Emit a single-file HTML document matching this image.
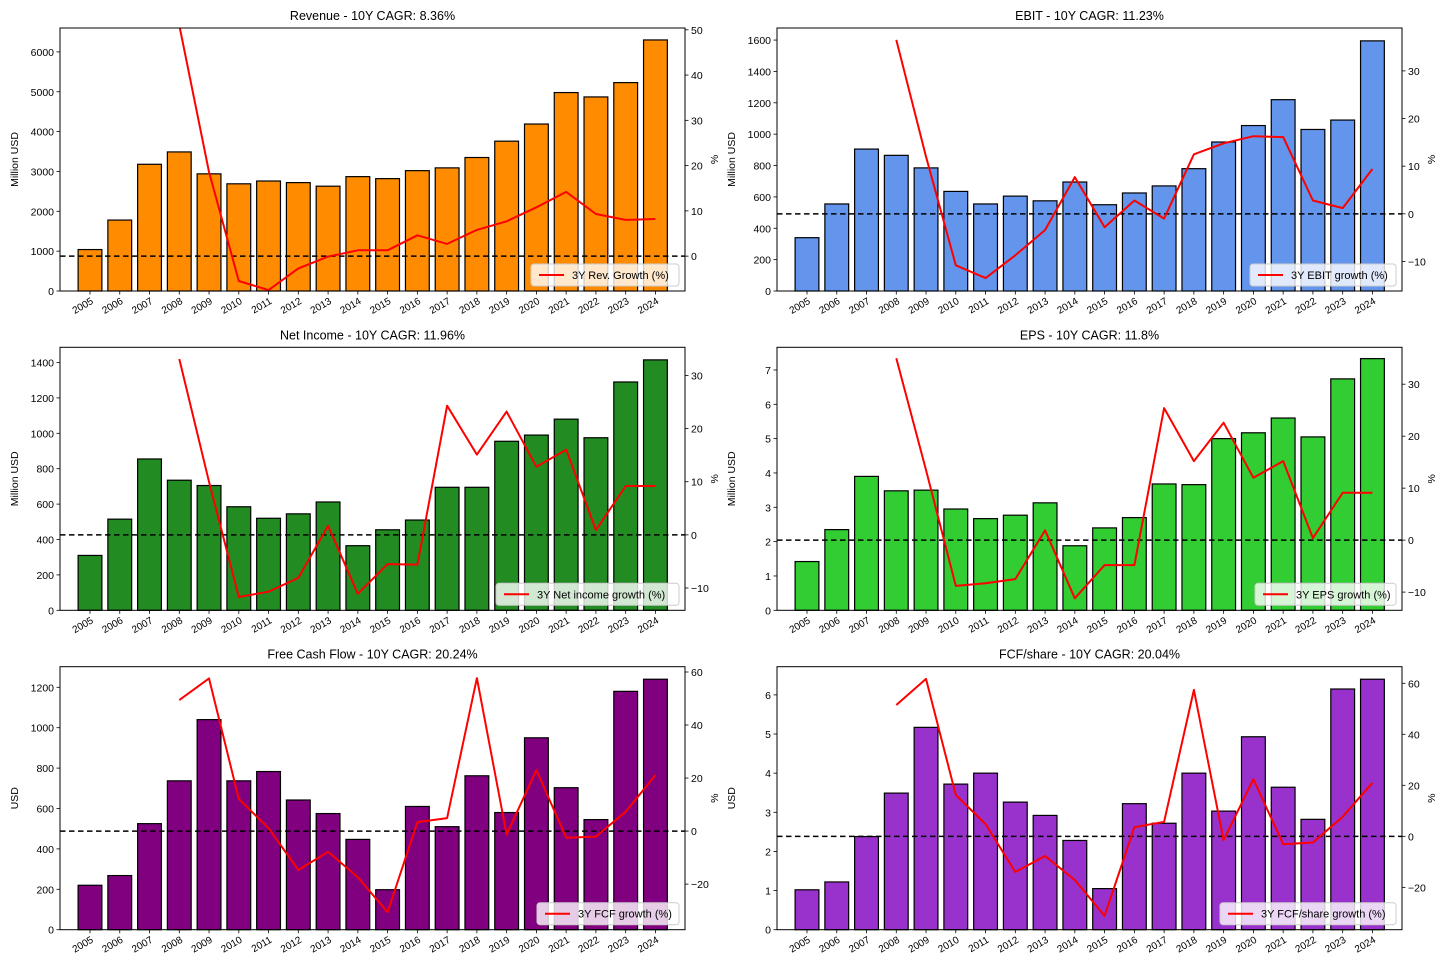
<!DOCTYPE html>
<html><head><meta charset="utf-8">
<style>
html,body{margin:0;padding:0;background:#fff;}
svg{display:block;font-family:"Liberation Sans",sans-serif;}
</style></head>
<body>
<svg id="fig" width="1456" height="971" viewBox="0 0 1456 971" xmlns="http://www.w3.org/2000/svg"></svg>
<script>
const years = ["2005","2006","2007","2008","2009","2010","2011","2012","2013","2014","2015","2016","2017","2018","2019","2020","2021","2022","2023","2024"];

const revenueValues = [1040,1780,3180,3490,2940,2690,2760,2720,2630,2870,2820,3020,3090,3350,3760,4190,4980,4870,5230,6300];
const revenueGrowth = [null,null,null,51,18.6,-5.5,-7.5,-2.7,-0.1,1.3,1.3,4.6,2.7,5.8,7.7,10.8,14.2,9.3,8,8.2];
const revenueLeftTicks = [0,1000,2000,3000,4000,5000,6000];
const revenueRightTicks = [0,10,20,30,40,50];

const ebitValues = [340,555,905,865,785,635,555,605,575,695,550,625,670,780,950,1055,1220,1030,1090,1595];
const ebitGrowth = [null,null,null,36.5,12,-10.8,-13.5,-8.7,-3.4,7.7,-2.8,2.8,-1,12.5,14.8,16.3,16.1,2.8,1.2,9.4];
const ebitLeftTicks = [0,200,400,600,800,1000,1200,1400,1600];
const ebitRightTicks = [-10,0,10,20,30];

const netIncomeValues = [310,515,855,735,705,585,520,545,612,365,455,510,695,695,955,990,1080,975,1290,1415];
const netIncomeGrowth = [null,null,null,33.1,10,-11.7,-10.7,-8.1,1.7,-11.1,-5.5,-5.6,24.3,15.1,23.2,12.8,16,0.9,9.2,9.2];
const netIncomeLeftTicks = [0,200,400,600,800,1000,1200,1400];
const netIncomeRightTicks = [-10,0,10,20,30];

const epsValues = [1.42,2.35,3.9,3.48,3.5,2.95,2.67,2.77,3.13,1.88,2.4,2.7,3.68,3.66,5.0,5.17,5.6,5.05,6.74,7.33];
const epsGrowth = [null,null,null,35,13.5,-8.8,-8.3,-7.5,1.9,-11.2,-4.8,-4.8,25.4,15.2,22.6,12,15.2,0.4,9.1,9.1];
const epsLeftTicks = [0,1,2,3,4,5,6,7];
const epsRightTicks = [-10,0,10,20,30];

const fcfValues = [220,268,525,737,1040,737,783,642,575,447,198,610,510,762,580,950,703,545,1180,1240];
const fcfGrowth = [null,null,null,49.4,57.6,12.1,1.1,-14.7,-7.8,-17.4,-30.6,3.4,4.9,57.7,-1.3,23,-2.5,-2.1,7.3,21.1];
const fcfLeftTicks = [0,200,400,600,800,1000,1200];
const fcfRightTicks = [-20,0,20,40,60];

const fcfShareValues = [1.02,1.22,2.38,3.49,5.17,3.72,4.0,3.26,2.92,2.28,1.05,3.22,2.72,4.0,3.03,4.93,3.64,2.82,6.15,6.4];
const fcfShareGrowth = [null,null,null,51.5,61.7,16.2,4.8,-14,-7.7,-17.1,-31.2,3.6,5.7,57.4,-1.5,22.4,-3.1,-2.4,7.7,21];
const fcfShareLeftTicks = [0,1,2,3,4,5,6];
const fcfShareRightTicks = [-20,0,20,40,60];

const NS = "http://www.w3.org/2000/svg";
const fig = document.getElementById("fig");
function mk(tag, attrs, parent, text){
  const e = document.createElementNS(NS, tag);
  for (const k in attrs) e.setAttribute(k, attrs[k]);
  if (text !== undefined) e.textContent = text;
  (parent||fig).appendChild(e);
  return e;
}

function drawPanel(cfg){
  const g = mk("g", {});
  
  
  const L = cfg.left, R = cfg.left + 625, T = cfg.top, B = cfg.top + 263;
  const yL = v => B - (v - 0) / (cfg.lmax - 0) * (B - T);
  const yR = v => B - (v - cfg.rmin) / (cfg.rmax - cfg.rmin) * (B - T);
  const xC = i => L + 30 + i * 29.76;
  const bw = 23.8;
  const clipId = "clip-" + cfg.name;
  const cp = mk("clipPath", {id: clipId}, g);
  mk("rect", {x: L, y: T, width: 625, height: 263}, cp);

  // title
  const t = mk("text", {x: (L+R)/2, y: T - 8, "text-anchor": "middle", "font-size": 12.5, fill: "#000"}, g, cfg.title);
  
  

  // bars
  cfg.values.forEach((v, i) => {
    const r = mk("rect", {x: xC(i) - bw/2, y: yL(v), width: bw, height: B - yL(v), fill: cfg.color, stroke: "#000", "stroke-width": 1.2}, g);
    
    
  });

  // zero dashed line
  const z = mk("line", {x1: L, x2: R, y1: yR(0), y2: yR(0), stroke: "#000", "stroke-width": 1.5, "stroke-dasharray": "5.5,3.5"}, g);
  
  

  // growth line
  const pts = [];
  cfg.growth.forEach((v, i) => { if (v !== null) pts.push(xC(i).toFixed(1) + "," + yR(v).toFixed(1)); });
  const pl = mk("polyline", {points: pts.join(" "), fill: "none", stroke: "#ff0000", "stroke-width": 2, "clip-path": "url(#" + clipId + ")", "stroke-linejoin": "round"}, g);
  
  

  // frame
  const f = mk("rect", {x: L, y: T, width: 625, height: 263, fill: "none", stroke: "#000", "stroke-width": 1}, g);
  
  

  // left ticks
  cfg.lticks.forEach(v => {
    const y = yL(v);
    mk("line", {x1: L - 3.5, x2: L, y1: y, y2: y, stroke: "#000", "stroke-width": 0.8}, g);
    const tl = mk("text", {x: L - 6, y: y + 4, "text-anchor": "end", "font-size": 10.5}, g, String(v));
    
    
  });
  // right ticks
  cfg.rticks.forEach(v => {
    const y = yR(v);
    mk("line", {x1: R, x2: R + 3.5, y1: y, y2: y, stroke: "#000", "stroke-width": 0.8}, g);
    const tl = mk("text", {x: R + 6, y: y + 4, "text-anchor": "start", "font-size": 10.5}, g, v < 0 ? "\u2212" + Math.abs(v) : String(v));
    
    
  });
  // x ticks
  years.forEach((yr, i) => {
    const x = xC(i);
    mk("line", {x1: x, x2: x, y1: B, y2: B + 3.5, stroke: "#000", "stroke-width": 0.8}, g);
    const tl = mk("text", {x: x + 4, y: B + 12, "text-anchor": "end", "font-size": 10, transform: "rotate(-30 " + (x+4) + " " + (B+12) + ")"}, g, yr);
    
    
  });
  // axis titles
  const ly = mk("text", {x: 0, y: 0, "text-anchor": "middle", "font-size": 10.5, transform: "translate(" + (L - 42) + "," + ((T+B)/2) + ") rotate(-90)"}, g, cfg.ylabel);
  
  
  const ry = mk("text", {x: 0, y: 0, "text-anchor": "middle", "font-size": 10.5, transform: "translate(" + (R + 33) + "," + ((T+B)/2) + ") rotate(-90)"}, g, "%");
  
  

  // legend
  const lw = cfg.legendW, lh = 22;
  const lx = R - 6 - lw, lyy = B - 5 - lh;
  const lg = mk("g", {}, g);
  
  
  mk("rect", {x: lx, y: lyy, width: lw, height: lh, rx: 3, fill: "#fff", "fill-opacity": 0.8, stroke: "#ccc", "stroke-width": 1}, lg);
  mk("line", {x1: lx + 8, x2: lx + 33, y1: lyy + 11, y2: lyy + 11, stroke: "#ff0000", "stroke-width": 2}, lg);
  const lt = mk("text", {x: lx + 41, y: lyy + 15, "font-size": 11}, lg, cfg.legend);
  
  
}

drawPanel({name:"revenue-chart", title:"Revenue - 10Y CAGR: 8.36%", left:60, top:28, lmax:6600, rmin:-7.7, rmax:50.4, values:revenueValues, growth:revenueGrowth, lticks:revenueLeftTicks, rticks:revenueRightTicks, color:"#ff8c00", ylabel:"Million USD", legend:"3Y Rev. Growth (%)", legendW:148});
drawPanel({name:"ebit-chart", title:"EBIT - 10Y CAGR: 11.23%", left:777, top:28, lmax:1677, rmin:-16.2, rmax:39.0, values:ebitValues, growth:ebitGrowth, lticks:ebitLeftTicks, rticks:ebitRightTicks, color:"#6495ed", ylabel:"Million USD", legend:"3Y EBIT growth (%)", legendW:146});
drawPanel({name:"net-income-chart", title:"Net Income - 10Y CAGR: 11.96%", left:60, top:347.3, lmax:1486, rmin:-14.2, rmax:35.3, values:netIncomeValues, growth:netIncomeGrowth, lticks:netIncomeLeftTicks, rticks:netIncomeRightTicks, color:"#228b22", ylabel:"Million USD", legend:"3Y Net income growth (%)", legendW:183});
drawPanel({name:"eps-chart", title:"EPS - 10Y CAGR: 11.8%", left:777, top:347.3, lmax:7.66, rmin:-13.5, rmax:37.1, values:epsValues, growth:epsGrowth, lticks:epsLeftTicks, rticks:epsRightTicks, color:"#32cd32", ylabel:"Million USD", legend:"3Y EPS growth (%)", legendW:141});
drawPanel({name:"fcf-chart", title:"Free Cash Flow - 10Y CAGR: 20.24%", left:60, top:666.7, lmax:1302, rmin:-37.2, rmax:62.0, values:fcfValues, growth:fcfGrowth, lticks:fcfLeftTicks, rticks:fcfRightTicks, color:"#800080", ylabel:"USD", legend:"3Y FCF growth (%)", legendW:142});
drawPanel({name:"fcf-share-chart", title:"FCF/share - 10Y CAGR: 20.04%", left:777, top:666.7, lmax:6.72, rmin:-36.6, rmax:66.5, values:fcfShareValues, growth:fcfShareGrowth, lticks:fcfShareLeftTicks, rticks:fcfShareRightTicks, color:"#9932cc", ylabel:"USD", legend:"3Y FCF/share growth (%)", legendW:176});
</script>
</body></html>
